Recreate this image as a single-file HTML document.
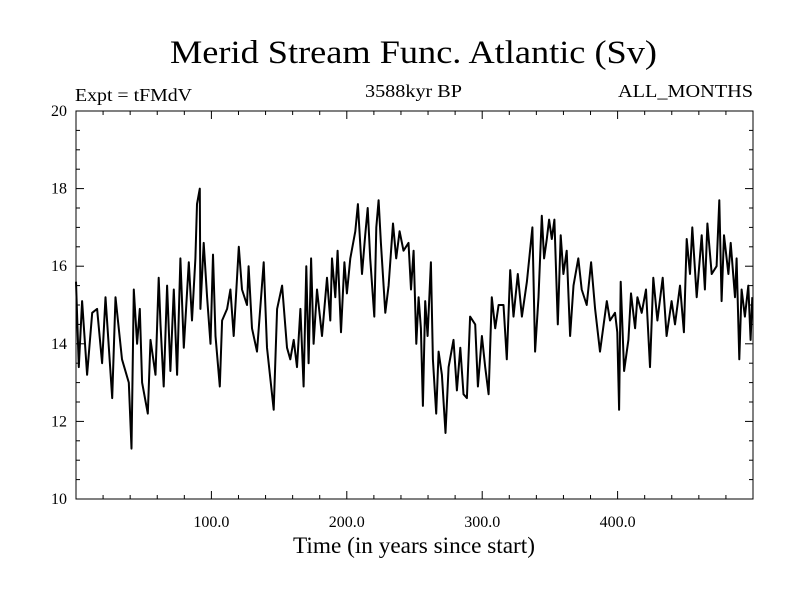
<!DOCTYPE html>
<html><head><meta charset="utf-8"><style>
body{margin:0;background:#fff}
svg text{font-family:"Liberation Serif",serif;fill:#000}
</style></head><body>
<svg id="c" width="800" height="600">
<rect width="800" height="600" fill="#fff"/>
<text x="170" y="63" font-size="33" textLength="487" lengthAdjust="spacingAndGlyphs">Merid Stream Func. Atlantic (Sv)</text>
<text x="75" y="101" font-size="18" textLength="117" lengthAdjust="spacingAndGlyphs">Expt = tFMdV</text>
<text x="365" y="97" font-size="18" textLength="97" lengthAdjust="spacingAndGlyphs">3588kyr BP</text>
<text x="618" y="97" font-size="18" textLength="135" lengthAdjust="spacingAndGlyphs">ALL_MONTHS</text>
<text x="293" y="553" font-size="23" textLength="242" lengthAdjust="spacingAndGlyphs">Time (in years since start)</text>
<g id="axes"></g>
<rect x="76" y="111" width="677" height="388" fill="none" stroke="#000" stroke-width="1"/>
</svg>
<script>
const years=[0,2.1,4.5,8.2,12,15.6,19.3,21.8,26.7,29.2,34,39,41,42.7,45.1,47.1,48.8,53,55,58.7,61.1,62.4,64.8,67.3,69.7,72.2,74.7,77.1,79.6,83.3,85.7,88.2,89.4,91.4,91.9,94.3,96.8,99.3,101.2,103,106.2,107.9,111.6,114,116.5,120.2,122.6,126.3,127.5,130,133.7,138.6,141.1,146,148.5,152.2,155.8,158.3,160.8,163.2,165.7,168.1,170.1,171.8,173.6,175.5,178,181.7,185.4,187.8,189.1,191.5,193.2,195.7,198.2,200.1,202.6,206.3,208.2,211.2,213.6,215.4,217.3,220.3,221.8,223.5,225.2,228.4,230.9,234.1,236.5,239,241.9,245.6,247.4,249.3,251.3,253,254.7,256.2,257.9,259.7,262.1,263.6,266,267.8,270.2,272.9,275.2,278.8,281.3,283.8,286.2,288.7,291.1,294.8,296.8,299.8,302.2,304.7,307.1,309.6,312.1,315.7,318.2,320.7,323.1,326.3,329.3,333,337.1,339.1,341.6,344,345.7,347.7,349.4,351.4,353.3,355.8,358,360,362.4,364.9,367.4,371,373.5,377.2,380.4,383.4,387,392,394.4,398.1,399.8,401.1,402.3,404.8,408,409.9,412.9,414.6,417.8,421,423.9,426.4,429.4,433.3,436.2,439.9,442.4,446.1,449,451,453.5,455.2,458.4,462.1,464.5,466.3,469.5,473.1,475.1,476.8,478.6,481.8,483.5,486.7,487.9,489.9,491.6,494,496.5,498.2,499.5];
const values=[15.6,13.4,15.1,13.2,14.8,14.9,13.5,15.2,12.6,15.2,13.6,13.0,11.3,15.4,14.0,14.9,13.0,12.2,14.1,13.2,15.7,14.5,12.9,15.5,13.3,15.4,13.2,16.2,13.9,16.1,14.6,16.2,17.6,18.0,14.9,16.6,15.2,14.0,16.3,14.2,12.9,14.6,14.9,15.4,14.2,16.5,15.4,15.0,16.0,14.4,13.8,16.1,13.9,12.3,14.9,15.5,13.9,13.6,14.1,13.4,14.9,12.9,16.0,13.5,16.2,14.0,15.4,14.2,15.7,14.6,16.2,15.2,16.4,14.3,16.1,15.3,16.2,16.9,17.6,15.8,16.8,17.5,16.2,14.7,17.0,17.7,16.6,14.8,15.5,17.1,16.2,16.9,16.4,16.6,15.4,16.4,14.0,15.2,14.4,12.4,15.1,14.2,16.1,13.6,12.2,13.8,13.2,11.7,13.4,14.1,12.8,13.9,12.7,12.6,14.7,14.5,12.9,14.2,13.4,12.7,15.2,14.4,15.0,15.0,13.6,15.9,14.7,15.8,14.7,15.6,17.0,13.8,15.2,17.3,16.2,16.7,17.2,16.7,17.2,14.5,16.8,15.8,16.4,14.2,15.5,16.2,15.4,15.0,16.1,14.9,13.8,15.1,14.6,14.8,14.3,12.3,15.6,13.3,14.1,15.3,14.4,15.2,14.8,15.4,13.4,15.7,14.6,15.7,14.2,15.1,14.5,15.5,14.3,16.7,15.8,17.0,15.2,16.8,15.4,17.1,15.8,16.0,17.7,15.1,16.8,15.8,16.6,15.2,16.2,13.6,15.4,14.7,15.5,14.1,15.2];
const xTicks=[100,200,300,400];
const xTickLabels=["100.0","200.0","300.0","400.0"];
const yTicks=[10,12,14,16,18,20];
const yTickLabels=["10","12","14","16","18","20"];
const L=76,R=753,T=111,B=499,X0=0,X1=500,Y0=10,Y1=20;
const sx=v=>L+(v-X0)/(X1-X0)*(R-L);
const sy=v=>B-(v-Y0)/(Y1-Y0)*(B-T);
const NS="http://www.w3.org/2000/svg";
const g=document.getElementById('axes');
function mk(t,a){const e=document.createElementNS(NS,t);for(const k in a)e.setAttribute(k,a[k]);g.appendChild(e);return e;}
for(let v=20;v<X1;v+=20){const major=v%100===0;const len=major?8:4;
 const t1=mk('line',{x1:sx(v),x2:sx(v),y1:B,y2:B-len,stroke:'#000'});
 
 
 const t2=mk('line',{x1:sx(v),x2:sx(v),y1:T,y2:T+len,stroke:'#000'});
 
 }
for(let v=10.5;v<20;v+=0.5){const major=Math.abs(v%2)<1e-9;const len=major?8:4;
 const t1=mk('line',{x1:L,x2:L+len,y1:sy(v),y2:sy(v),stroke:'#000'});
 
 
 const t2=mk('line',{x1:R,x2:R-len,y1:sy(v),y2:sy(v),stroke:'#000'});
 
 }
xTicks.forEach((v,i)=>{const t=mk('text',{x:sx(v),y:527,'font-size':16,'text-anchor':'middle'});t.textContent=xTickLabels[i];
 
 });
yTicks.forEach((v,i)=>{const t=mk('text',{x:67,y:sy(v)+5,'font-size':16,'text-anchor':'end'});t.textContent=yTickLabels[i];
 
 });
const p=mk('polyline',{points:years.map((y,i)=>sx(y).toFixed(1)+','+sy(values[i]).toFixed(1)).join(' '),fill:'none',stroke:'#000','stroke-width':2,'stroke-linejoin':'round'});


</script>
</body></html>
